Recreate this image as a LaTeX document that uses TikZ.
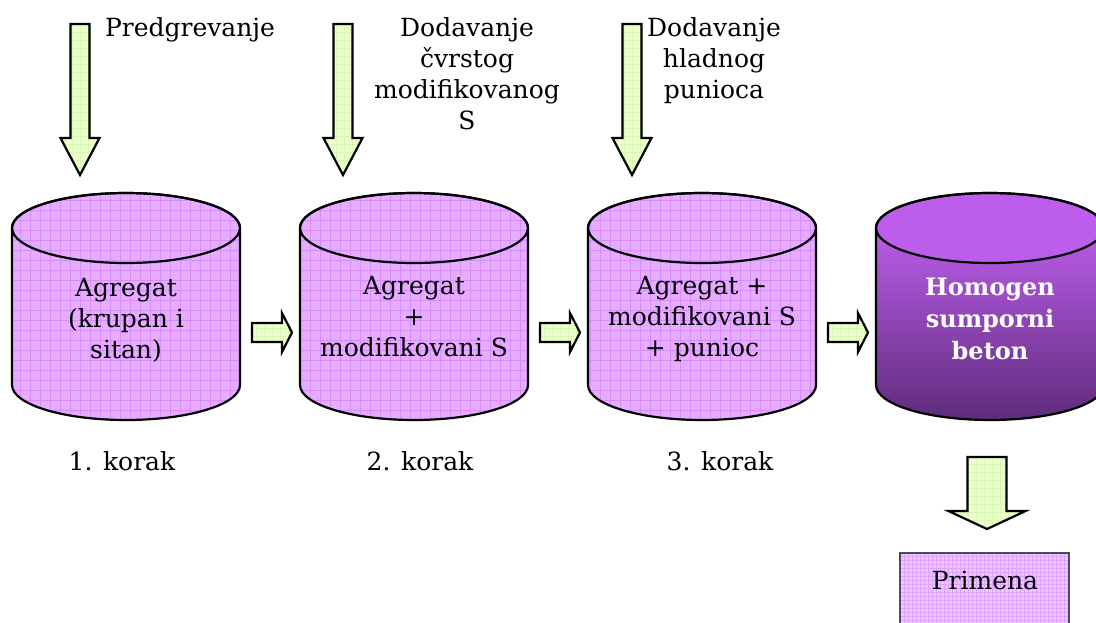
\documentclass[tikz,border=0pt]{standalone}
\usepackage{fontspec}
\setmainfont{DejaVu Serif}
\begin{document}
\begin{tikzpicture}[x=1pt,y=-1pt,
  lbl/.style={inner sep=0pt,anchor=base,font=\fontsize{25}{31}\selectfont},
  wlbl/.style={inner sep=0pt,anchor=base,text=white,font=\bfseries\fontsize{24}{31}\selectfont},
  outline/.style={draw=black,line width=2.2pt,line join=miter}]
\definecolor{violetbase}{RGB}{230,172,255}
\definecolor{violetgrid}{RGB}{214,140,252}
\definecolor{greenbase}{RGB}{234,255,204}
\definecolor{greengrid}{RGB}{216,249,180}
\definecolor{darktop}{RGB}{204,102,255}
\definecolor{darkbot}{RGB}{94,44,122}
\useasboundingbox (0,0) rectangle (1096,622);
\clip (0,0) rectangle (1096,622);

% cylinder silhouette: #1 centre x
\newcommand{\cylpath}[1]{(#1-114,228) -- (#1-114,385)
  arc[start angle=180,end angle=360,x radius=114pt,y radius=35pt]
  -- (#1+114,228)
  arc[start angle=0,end angle=180,x radius=114pt,y radius=35pt] -- cycle}

% gridded cylinder
\newcommand{\gridcyl}[1]{%
  \begin{scope}
    \clip \cylpath{#1};
    \fill[violetbase] (#1-120,180) rectangle (#1+120,430);
    \draw[violetgrid,line width=0.7pt,step=10pt] (#1-120,180) grid (#1+120,430);
  \end{scope}
  \draw[outline] \cylpath{#1};
  \draw[outline] (#1,228) ellipse[x radius=114pt,y radius=35pt];}

% block arrow pointing down: cx, top, shaft end, tip, half shaft, half head
\newcommand{\downarrowshape}[6]{(#1-#5,#2) -- (#1+#5,#2) -- (#1+#5,#3) -- (#1+#6,#3)
  -- (#1,#4) -- (#1-#6,#3) -- (#1-#5,#3) -- cycle}
\newcommand{\downblock}[6]{%
  \begin{scope}
    \clip \downarrowshape{#1}{#2}{#3}{#4}{#5}{#6};
    \fill[greenbase] (#1-#6,#2) rectangle (#1+#6,#4);
    \draw[greengrid,line width=0.6pt,step=8pt] (#1-#6,#2) grid (#1+#6,#4);
  \end{scope}
  \draw[outline] \downarrowshape{#1}{#2}{#3}{#4}{#5}{#6};}

% block arrow pointing right: left x, shaft end, tip, centre y
\newcommand{\rightarrowshape}[4]{(#1,#4-9.5) -- (#2,#4-9.5) -- (#2,#4-19.5) -- (#3,#4)
  -- (#2,#4+19.5) -- (#2,#4+9.5) -- (#1,#4+9.5) -- cycle}
\newcommand{\rightblock}[4]{%
  \begin{scope}
    \clip \rightarrowshape{#1}{#2}{#3}{#4};
    \fill[greenbase] (#1,#4-20) rectangle (#3,#4+20);
    \draw[greengrid,line width=0.6pt,step=8pt] (#1,#4-20) grid (#3,#4+20);
  \end{scope}
  \draw[outline] \rightarrowshape{#1}{#2}{#3}{#4};}

% input arrows
\downblock{80}{24}{138}{175}{9.5}{19.5}
\downblock{343}{24}{138}{175}{9.5}{19.5}
\downblock{632}{24}{138}{175}{9.5}{19.5}

% input labels
\node[lbl] (in1) at (190,36) {Predgrevanje};
\foreach \t [count=\i] in {Dodavanje,čvrstog,modifikovanog,S}
  \node[lbl] (in2-\i) at (467,{36+31*(\i-1)}) {\t};
\foreach \t [count=\i] in {Dodavanje,hladnog,punioca}
  \node[lbl] (in3-\i) at (714,{36+31*(\i-1)}) {\t};

% process cylinders
\gridcyl{126}
\gridcyl{414}
\gridcyl{702}

% final product cylinder
\shade[top color=darktop,bottom color=darkbot] \cylpath{990};
\fill[darktop!92!black] (990,228) ellipse[x radius=114pt,y radius=35pt];
\draw[outline] \cylpath{990};
\draw[outline] (990,228) ellipse[x radius=114pt,y radius=35pt];

% step arrows
\rightblock{252}{282}{292}{332.5}
\rightblock{540}{570}{580}{332.5}
\rightblock{828}{858}{868}{332.5}

% cylinder contents
\foreach \t [count=\i] in {{Agregat},{(krupan i},{sitan)}}
  \node[lbl] (c1-\i) at (126,{296+31*(\i-1)}) {\t};
\foreach \t [count=\i] in {Agregat,+,modifikovani S}
  \node[lbl] (c2-\i) at (414,{294+31*(\i-1)}) {\t};
\foreach \t [count=\i] in {Agregat +,modifikovani S,+ punioc}
  \node[lbl] (c3-\i) at (702,{294+31*(\i-1)}) {\t};
\foreach \t [count=\i] in {Homogen,sumporni,beton}
  \node[wlbl] (c4-\i) at (990,{295+32*(\i-1)}) {\t};

% step labels
\node[lbl] (k1) at (122,470) {1. korak};
\node[lbl] (k2) at (420,470) {2. korak};
\node[lbl] (k3) at (720,470) {3. korak};

% output arrow and application box
\downblock{987}{457}{511}{529}{19.5}{38.5}
\begin{scope}
  \clip (900,553) rectangle (1069,640);
  \fill[violetbase!70!white] (900,553) rectangle (1069,640);
  \draw[violetgrid!80!white,line width=0.5pt,step=4pt] (900,553) grid (1069,640);
\end{scope}
\draw[draw=black!70,line width=1.2pt] (900,640) -- (900,553) -- (1069,553) -- (1069,640);
\node[lbl] (app) at (985,589) {Primena};
\end{tikzpicture}
\end{document}
